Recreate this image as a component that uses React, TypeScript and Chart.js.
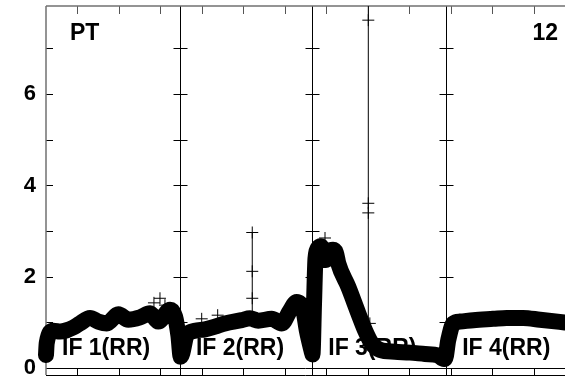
import React, { useEffect, useRef } from "react";
import { Chart, registerables } from "chart.js";

Chart.register(...registerables);

// ---- axis / annotation content ----
const yTickLabels = [0, 2, 4, 6];
const yMinorTicks = [1, 2, 3, 4, 5, 6, 7];
const xTicks = [3, 7, 11, 15, 19, 23, 27, 31, 35, 39, 43, 47];
const panelBreaks = [12.9, 25.65, 38.55];
const panelLabels = ["IF 1(RR)", "IF 2(RR)", "IF 3(RR)", "IF 4(RR)"];
const cornerLeft = "PT";
const cornerRight = "12";

// ---- series: trend band per panel ----
const p1X = [0, 0.07, 0.7, 1.35, 2.0, 2.63, 3.28, 4.24, 5.04, 5.85, 6.97, 7.93, 9.06, 10.02, 10.82, 11.95, 12.43, 12.75];
const p1Y = [0.29, 0.55, 0.82, 0.8, 0.83, 0.89, 0.98, 1.1, 1.02, 0.98, 1.18, 1.06, 1.11, 1.2, 1.02, 1.28, 1.13, 0.72];
const p2X = [12.98, 13.55, 14.35, 15.32, 16.28, 17.24, 18.85, 19.65, 20.45, 21.74, 22.71, 23.51, 24.15, 24.79, 25.12, 25.6];
const p2Y = [0.25, 0.72, 0.82, 0.85, 0.91, 0.98, 1.05, 1.09, 1.04, 1.08, 0.98, 1.26, 1.45, 1.27, 0.83, 0.36];
const p3X = [25.67, 25.82, 25.96, 26.2, 26.49, 26.97, 27.36, 27.65, 27.94, 28.16, 29.12, 30.09, 30.73, 31.38, 32.18, 33.62, 35.07, 36.51, 37.76, 38.34];
const p3Y = [0.3, 1.4, 2.4, 2.63, 2.67, 2.37, 2.56, 2.59, 2.52, 2.29, 1.78, 1.2, 0.83, 0.54, 0.4, 0.36, 0.34, 0.31, 0.28, 0.2];
const p4X = [38.44, 38.76, 39.24, 39.88, 41.17, 43.09, 44.38, 45.98, 47.59, 50];
const p4Y = [0.2, 0.62, 0.98, 1.02, 1.05, 1.08, 1.1, 1.1, 1.06, 1.0];

// ---- isolated readings (crosses) ----
const outlierX = [10.4, 10.98, 11.46, 15.0, 16.54, 26.88, 29.29, 31.2];
const outlierY = [1.43, 1.53, 1.38, 1.08, 1.16, 2.85, 1.75, 0.98];

// ---- vertical spikes ----
const spikeAX = 19.87;
const spikeAY = [1.12, 1.53, 2.12, 2.97];
const spikeBX = 31.05;
const spikeBY = [0.7, 3.4, 3.61, 7.62, 7.93];

const FONT = "'Liberation Sans', Arial, Helvetica, sans-serif";

const zip = (xs: number[], ys: number[]) => xs.map((x, i) => ({ x, y: ys[i] }));

const framePlugin = {
  id: "frame",
  beforeDatasetsDraw(chart: any) {
    const { ctx, chartArea: a, scales } = chart;
    const xs = scales.x;
    const ys = scales.y;
    const r = (v: number) => Math.round(v) + 0.5;
    const line = (x1: number, y1: number, x2: number, y2: number) => {
      ctx.beginPath();
      ctx.moveTo(x1, y1);
      ctx.lineTo(x2, y2);
      ctx.stroke();
    };
    ctx.save();
    ctx.strokeStyle = "#000";
    ctx.lineWidth = 1;
    const y0 = r(ys.getPixelForValue(0));
    line(a.left, y0, a.right, y0);
    line(a.left, r(a.bottom), a.right, r(a.bottom));
    for (const t of xTicks) {
      const px = r(xs.getPixelForValue(t));
      ctx.strokeStyle = "#000";
      line(px, y0, px, a.bottom);
      ctx.strokeStyle = "#555";
      line(px, a.top, px, a.top + 8);
    }
    ctx.strokeStyle = "#000";
    for (const v of yMinorTicks) {
      const py = r(ys.getPixelForValue(v));
      line(a.left, py, a.left + 7, py);
    }
    for (const b of panelBreaks) {
      const px = r(xs.getPixelForValue(b));
      line(px, a.top, px, a.bottom);
      for (const v of yMinorTicks) {
        const py = r(ys.getPixelForValue(v));
        line(px - 7, py, px + 7, py);
      }
    }
    ctx.strokeStyle = "#707070";
    ctx.lineWidth = 1.5;
    line(a.left, a.top, a.right, a.top);
    line(a.left, a.top, a.left, a.bottom);

    ctx.fillStyle = "#000";
    ctx.font = `bold 23px ${FONT}`;
    ctx.textBaseline = "alphabetic";
    ctx.textAlign = "left";
    ctx.fillText(cornerLeft, a.left + 24, a.top + 34);
    ctx.textAlign = "right";
    ctx.fillText(cornerRight, a.right - 7, a.top + 34);
    ctx.textAlign = "left";
    const starts = [xs.min, ...panelBreaks];
    panelLabels.forEach((lbl, i) => {
      const px = xs.getPixelForValue(starts[i]) + 16;
      ctx.fillText(lbl, px, a.bottom - 20);
    });
    ctx.restore();
  },
};

export default function App() {
  const ref = useRef<HTMLCanvasElement | null>(null);

  useEffect(() => {
    if (!ref.current) return;
    const band = [...zip(p1X, p1Y), ...zip(p2X, p2Y), ...zip(p3X, p3Y), ...zip(p4X, p4Y)];
    const chart = new Chart(ref.current, {
      type: "line",
      data: {
        datasets: [
          {
            data: band,
            borderColor: "#000",
            backgroundColor: "#000",
            borderWidth: 16,
            borderJoinStyle: "round",
            borderCapStyle: "round",
            cubicInterpolationMode: "monotone",
            pointStyle: "cross",
            pointRadius: 7,
            pointBorderWidth: 1,
            pointBorderColor: "#000",
            clip: false,
          } as any,
          {
            type: "scatter",
            data: zip(outlierX, outlierY),
            showLine: false,
            pointStyle: "cross",
            pointRadius: 6,
            pointBorderWidth: 1,
            borderColor: "#000",
            pointBorderColor: "#000",
          } as any,
          {
            data: spikeAY.map((y) => ({ x: spikeAX, y })),
            borderColor: "#000",
            borderWidth: 1,
            tension: 0,
            pointStyle: "cross",
            pointRadius: spikeAY.map((_, i) => (i === 0 ? 0 : 6)),
            pointBorderWidth: 1,
            pointBorderColor: "#000",
          } as any,
          {
            data: spikeBY.map((y) => ({ x: spikeBX, y })),
            borderColor: "#000",
            borderWidth: 1,
            tension: 0,
            pointStyle: "cross",
            pointRadius: spikeBY.map((_, i) => (i === 0 || i === spikeBY.length - 1 ? 0 : 6)),
            pointBorderWidth: 1,
            pointBorderColor: "#000",
          } as any,
        ],
      },
      options: {
        animation: false,
        responsive: false,
        layout: { autoPadding: false, padding: { top: 6, right: 0, bottom: 8, left: 0 } },
        plugins: { legend: { display: false }, tooltip: { enabled: false } },
        scales: {
          x: {
            type: "linear",
            min: 0,
            max: 50,
            display: false,
            ticks: { display: false },
            afterFit: (s: any) => {
              s.paddingLeft = 0;
              s.paddingRight = 0;
            },
          },
          y: {
            type: "linear",
            min: -0.15,
            max: 7.93,
            grid: { display: false, drawTicks: false },
            border: { display: false },
            afterFit: (s: any) => {
              s.width = 46;
              s.paddingTop = 0;
              s.paddingBottom = 0;
            },
            afterBuildTicks: (s: any) => {
              s.ticks = yTickLabels.map((v) => ({ value: v }));
            },
            ticks: {
              padding: 10,
              color: "#000",
              font: { family: FONT, size: 22, weight: "bold" },
            },
          },
        },
      },
      plugins: [framePlugin],
    });
    return () => chart.destroy();
  }, []);

  return (
    <div style={{ position: "absolute", left: 0, top: 0, width: 565, height: 383, overflow: "hidden", background: "#fff" }}>
      <canvas ref={ref} width={565} height={383} style={{ display: "block", width: 565, height: 383 }} />
    </div>
  );
}
